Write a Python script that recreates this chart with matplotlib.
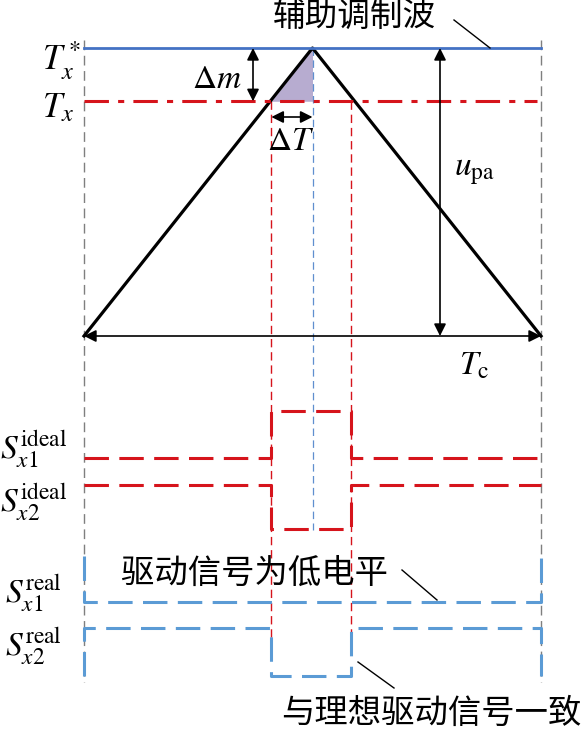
import matplotlib.pyplot as plt

plt.rcParams['mathtext.fontset'] = 'stix'
plt.rcParams['font.family'] = ['Liberation Serif', 'DejaVu Serif']
CJK = ['Noto Sans CJK SC', 'DejaVu Sans']

# waveform data (time in units of Tc, carrier level normalised to Tx*)
Tc = 1.0
carrier_t = [0.0, 0.5, 1.0]
carrier_v = [0.0, 1.0, 0.0]
Tx_star = 1.0
Tx = 0.815
t_on = 0.41
t_off = 0.585
shade_t = [t_on, 0.5]
shade_top = [Tx, 1.0]

ideal_t = [0.0, t_on, t_off, 1.0]
S1_ideal = [0, 1, 0, 0]
S2_ideal = [1, 0, 1, 1]
S1_real_t = [0.0, 0.0, 1.0, 1.0]
S1_real = [1, 0, 0, 1]
S2_real_t = [0.0, 0.0, t_on, t_on, t_off, t_off, 1.0, 1.0]
S2_real = [0, 1, 1, 0, 0, 1, 1, 0]

# layout (pixels)
X0, W = 84, 457
CAR_BASE, CAR_H = 336, 288


def px(t):
    return [X0 + v * W for v in t] if isinstance(t, list) else X0 + t * W


def cy(v):
    return [CAR_BASE - a * CAR_H for a in v] if isinstance(v, list) else CAR_BASE - v * CAR_H


def row(levels, low, high):
    return [low + (high - low) * a for a in levels]


red = '#d6141c'
blue = '#5b9bd5'
navy = '#4472c4'

fig = plt.figure(figsize=(5.84, 7.29), dpi=100)
ax = fig.add_axes([0, 0, 1, 1])
ax.set_xlim(0, 584)
ax.set_ylim(729, 0)
ax.axis('off')

# frame verticals
for t in [0.0, Tc]:
    ax.plot([px(t)] * 2, [40, 682], color='#7f7f7f', lw=1.0, dashes=(7, 4))
for t in [t_on, t_off]:
    ax.plot([px(t)] * 2, [cy(Tx), 655], color=red, lw=1.0, dashes=(6, 3.5))
ax.plot([px(0.5)] * 2, [cy(Tx_star), 530], color='#5f8fcf', lw=0.9, dashes=(6, 3.5))

# carrier and levels
ax.fill_between(px(shade_t), cy(shade_top), cy(Tx), color='#b7acd0', lw=0)
ax.plot(px(carrier_t), cy(carrier_v), color='k', lw=2.3)
ax.plot([px(0.0), px(Tc)], [cy(Tx_star)] * 2, color=navy, lw=2.0)
ax.plot([px(0.0), px(Tc) - 4], [cy(Tx)] * 2, color=red, lw=2.2, dashes=(8, 3, 2, 3))

arr = dict(arrowstyle='<|-|>', lw=1.2, color='k', mutation_scale=18, shrinkA=0, shrinkB=0)
ax.annotate('', xy=(px(0.0), CAR_BASE), xytext=(px(Tc), CAR_BASE), arrowprops=arr)
ax.annotate('', xy=(440, cy(Tx_star)), xytext=(440, CAR_BASE), arrowprops=arr)
ax.annotate('', xy=(253, cy(Tx_star)), xytext=(253, cy(Tx)), arrowprops=arr)
ax.annotate('', xy=(px(t_on), 117), xytext=(px(0.5), 117), arrowprops=arr)

# switching signals
ax.plot(px(ideal_t), row(S1_ideal, 458, 411), color=red, lw=2.2, dashes=(8, 3.4),
        drawstyle='steps-post')
ax.plot(px(ideal_t), row(S2_ideal, 529, 485), color=red, lw=2.2, dashes=(8, 3.4),
        drawstyle='steps-post')
ax.plot(px(S1_real_t), row(S1_real, 602, 556), color=blue, lw=2.2, dashes=(8, 3.4))
ax.plot(px(S2_real_t), row(S2_real, 676, 628), color=blue, lw=2.2, dashes=(8, 3.4))

# labels
fs = 24
ax.text(81, 61, r'$T_x^*$', fontsize=25, ha='right', va='center')
ax.text(74, 109, r'$T_x$', fontsize=25, ha='right', va='center')
ax.text(217, 80, r'$\Delta m$', fontsize=fs, ha='center', va='center')
ax.text(291, 142, r'$\Delta T$', fontsize=fs, ha='center', va='center')
ax.text(474, 172, r'$u_{\mathrm{pa}}$', fontsize=fs, ha='center', va='center')
ax.text(474, 366, r'$T_{\mathrm{c}}$', fontsize=fs, ha='center', va='center')
ax.text(0, 449, r'$S_{x1}^{\mathrm{ideal}}$', fontsize=fs, ha='left', va='center')
ax.text(0, 502, r'$S_{x2}^{\mathrm{ideal}}$', fontsize=fs, ha='left', va='center')
ax.text(5, 593, r'$S_{x1}^{\mathrm{real}}$', fontsize=fs, ha='left', va='center')
ax.text(5, 646, r'$S_{x2}^{\mathrm{real}}$', fontsize=fs, ha='left', va='center')

ax.text(354, 17, '辅助调制波', fontsize=23.5, family=CJK, ha='center', va='center')
ax.plot([454, 490], [20, 48], color='k', lw=1.0)
ax.text(254, 573, '驱动信号为低电平', fontsize=24, family=CJK, ha='center', va='center')
ax.plot([402, 437], [570, 600], color='k', lw=1.0)
ax.text(431, 713, '与理想驱动信号一致', fontsize=24, family=CJK, ha='center', va='center')
ax.plot([358, 394], [662, 688], color='k', lw=1.0)

fig.savefig('out.png', dpi=100)
